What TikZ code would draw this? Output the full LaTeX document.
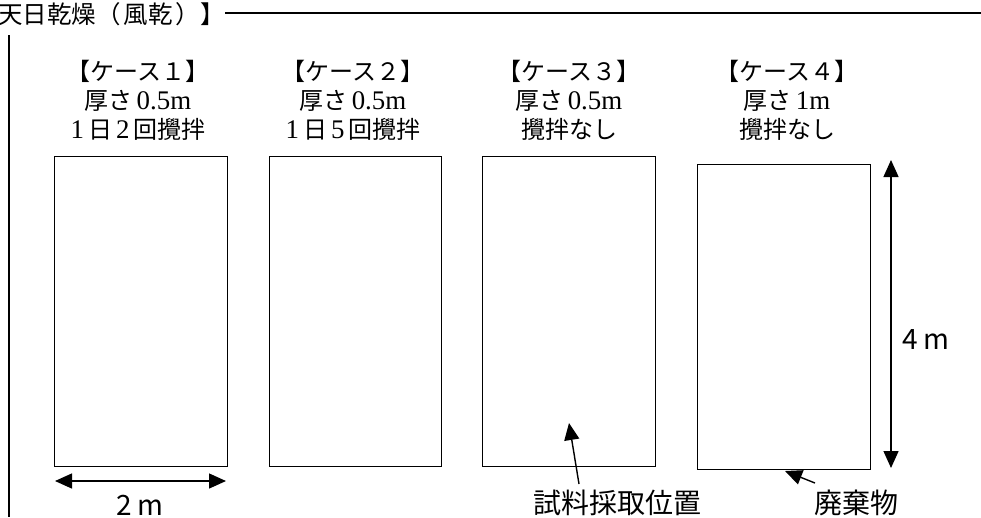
\documentclass[tikz,border=0pt]{standalone}
\usepackage{fontspec}
\setmainfont{Noto Sans CJK JP}
\newfontfamily\numfont[Scale=1.12]{Liberation Serif}
\usetikzlibrary{arrows.meta}
\begin{document}
\begin{tikzpicture}[x=1pt,y=-1pt,
  bx/.style={draw, line width=1.1pt, inner sep=0pt},
  dim/.style={line width=1.4pt, {Triangle[length=17pt,width=15pt]}-{Triangle[length=17pt,width=15pt]}},
  ptr/.style={line width=1.4pt, -{Triangle[length=17pt,width=15pt]}},
  hdr/.style={align=center, font=\fontsize{24}{29}\selectfont, inner sep=0pt},
  lbl/.style={font=\fontsize{28}{30}\selectfont, inner sep=0pt},
  rule/.style={line width=1.2pt}]
\useasboundingbox (0,0) rectangle (981,517);
% title
\node[anchor=west, font=\fontsize{24.5}{26}\selectfont, inner sep=0pt] (title) at (-2,14) {天日乾燥（\hspace{3pt}風乾\hspace{3pt}）】};
\coordinate (tr) at (981,13);
\draw[rule] (225,13) -- (tr);
\coordinate (vt) at (9,35);
\coordinate (vb) at (9,517);
\draw[rule] (vt) -- (vb);
% boxes
\node[bx, anchor=north west, minimum width=173pt, minimum height=310pt] (b1) at (54,156) {};
\node[bx, anchor=north west, minimum width=172pt, minimum height=310pt] (b2) at (269,156) {};
\node[bx, anchor=north west, minimum width=173pt, minimum height=310pt] (b3) at (482,156) {};
\node[bx, anchor=north west, minimum width=173pt, minimum height=305pt] (b4) at (697,164) {};
% headers
\node[hdr] (h1) at (138,100) {【ケース１】\\厚さ\,{\numfont 0.5m}\\{\numfont 1}\,日\,{\numfont 2}\,回攪拌};
\node[hdr] (h2) at (353,100) {【ケース２】\\厚さ\,{\numfont 0.5m}\\{\numfont 1}\,日\,{\numfont 5}\,回攪拌};
\node[hdr] (h3) at (569,100) {【ケース３】\\厚さ\,{\numfont 0.5m}\\攪拌なし};
\node[hdr] (h4) at (787,100) {【ケース４】\\厚さ\,{\numfont 1m}\\攪拌なし};
% dimensions
\coordinate (w1) at (55,481);
\coordinate (w2) at (226,481);
\draw[dim] (w1) -- (w2);
\node[lbl] (l2m) at (140,505) {2 m};
\coordinate (v1) at (891,160);
\coordinate (v2) at (891,468);
\draw[dim] (v1) -- (v2);
\node[lbl] (l4m) at (926,340) {4 m};
% pointers
\node[lbl] (ls) at (617,503) {試料採取位置};
\node[lbl] (lw) at (856,503) {廃棄物};
\coordinate (s0) at (579,484);
\coordinate (s1) at (569,423);
\draw[ptr] (s0) -- (s1);
\coordinate (p0) at (815,483);
\coordinate (p1) at (785,471);
\draw[ptr] (p0) -- (p1);
\end{tikzpicture}
\end{document}
